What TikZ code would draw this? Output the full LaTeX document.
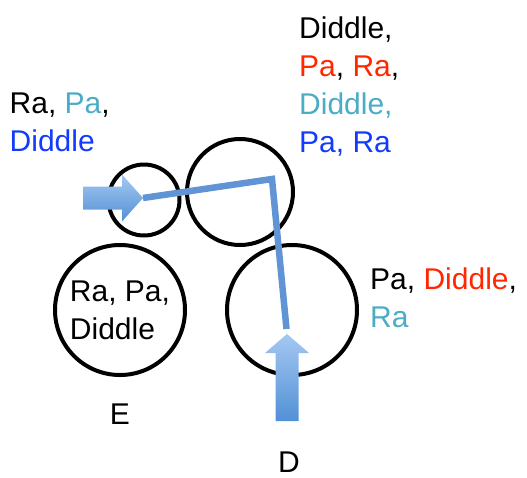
\documentclass[tikz,border=0pt]{standalone}
\usepackage{fontspec}
\setmainfont{Liberation Sans}
\usetikzlibrary{positioning}
\definecolor{pared}{RGB}{255,38,0}
\definecolor{pateal}{RGB}{75,172,198}
\definecolor{pablue}{RGB}{18,60,250}
\definecolor{arrowtop}{RGB}{165,200,242}
\definecolor{arrowbot}{RGB}{82,144,214}
\definecolor{linkblue}{RGB}{96,148,212}

\begin{document}
\begin{tikzpicture}[x=1pt,y=-1pt,on grid,
    ring/.style={circle,draw,line width=4pt,inner sep=0pt,align=left,
      font=\fontsize{30}{38}\selectfont},
    txt/.style={anchor=north west,inner sep=0pt,align=left,
      font=\fontsize{30}{38}\selectfont},
    blockarrow/.style={top color=arrowtop,bottom color=arrowbot},
    link/.style={draw=linkblue,line width=6.5pt,shorten >=5pt}]
	   \useasboundingbox (0,0) rectangle (527,477);
	   \node[ring,minimum size=71pt] (c_A) at (144,200) {};
	   \node[ring,minimum size=106pt] (c_B) at (240,192) {};
	   \node[ring,minimum size=130pt] (c_E) at (120,310) {Ra, Pa,\\Diddle};
	   \node[ring,minimum size=130pt] (c_D) [right=172pt of c_E] {};
	   \node[txt] (l_E) [below=104pt of c_E,anchor=center] {E};
	   \node[txt] (l_D) at (289,462) [anchor=center] {D};
	   \node[txt] (t_A) at (9.5,93) {Ra, \textcolor{pateal}{Pa},\\\textcolor{pablue}{Diddle}};
	   \node[txt] (t_B) at (299,17) {Diddle,\\\textcolor{pared}{Pa}, \textcolor{pared}{Ra},\\\textcolor{pateal}{Diddle,}\\\textcolor{pablue}{Pa, Ra}};
	   \node[txt] (t_D) at (370,268) {Pa, \textcolor{pared}{Diddle},\\\textcolor{pateal}{Ra}};
	   \coordinate (tip_in) at (143,198);
	   \coordinate (k) at (272,179);
	   \coordinate (tip_out) at (287,334);
	   % block arrows and the path between them
	   \path[blockarrow] (tip_in) -- ++(-21,-23.5) -- ++(0,12) -- ++(-39,0)
	     -- ++(0,23) -- ++(39,0) -- ++(0,12) -- cycle;
	   \path[link] (tip_in) -- (k) -- (tip_out);
	   \path[blockarrow] (tip_out) -- ++(-22,19) -- ++(10.5,0) -- ++(0,68)
	     -- ++(23,0) -- ++(0,-68) -- ++(10.5,0) -- cycle;
	\end{tikzpicture}
\end{document}
